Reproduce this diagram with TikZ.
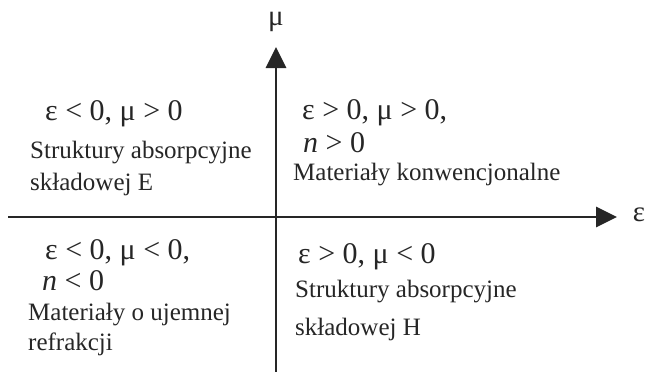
\documentclass[tikz,border=0pt]{standalone}
\usepackage{fontspec}
\setmainfont{Liberation Serif}
\usetikzlibrary{arrows.meta}
\tikzset{
  axis/.style={line width=2.8pt, draw=black!85, -{Triangle[length=21pt,width=20pt]}},
  txt/.style={anchor=base west, inner sep=0pt, font=\fontsize{25}{30}\selectfont, text=black!85},
  frm/.style={anchor=base west, inner sep=0pt, font=\fontsize{30}{36}\selectfont, text=black!85},
  lab/.style={inner sep=0pt, font=\fontsize{29}{34}\selectfont, text=black!85}
}
\begin{document}
\begin{tikzpicture}[x=1pt,y=-1pt]
\useasboundingbox (0,0) rectangle (646,372);
% axes
\coordinate (xs) at (8,217);
\coordinate (xe) at (617,217);
\coordinate (ys) at (276,372);
\coordinate (ye) at (276,47);
\draw[axis] (xs) -- (xe);
\draw[axis] (ys) -- (ye);
\node[lab] (epslab) at (639,215) {ε};
\node[lab] (mulab) at (276,22) {μ};
% quadrant II
\node[frm] (q2a) at (45,120) {ε < 0, μ > 0};
\node[txt] (q2b) at (30,158) {Struktury absorpcyjne};
\node[txt] (q2c) at (30,190) {składowej E};
% quadrant I
\node[frm] (q1a) at (302,119) {ε > 0, μ > 0,};
\node[frm] (q1b) at (303,152) {\textit{n} > 0};
\node[txt] (q1c) at (293,180) {Materiały konwencjonalne};
% quadrant III
\node[frm] (q3a) at (45,259) {ε < 0, μ < 0,};
\node[frm] (q3b) at (42,290) {\textit{n} < 0};
\node[txt] (q3c) at (28,320) {Materiały o ujemnej};
\node[txt] (q3d) at (28,350) {refrakcji};
% quadrant IV
\node[frm] (q4a) at (298,263) {ε > 0, μ < 0};
\node[txt] (q4b) at (295,297) {Struktury absorpcyjne};
\node[txt] (q4c) at (295,335) {składowej H};
\end{tikzpicture}
\end{document}
